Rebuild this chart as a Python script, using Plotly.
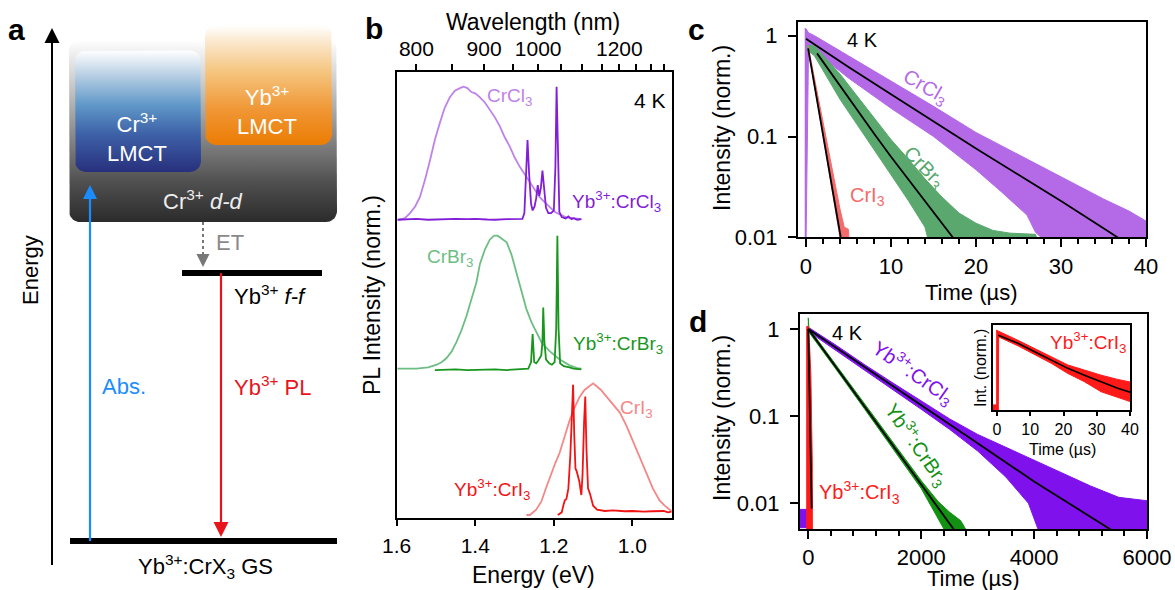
import numpy as np
import plotly.graph_objects as go

W, H = 1175, 590
FONT = "Liberation Sans, Arial, Helvetica, sans-serif"

# ======================= Panel a : energy-level scheme =======================
# energies in arbitrary units (GS = 0, Yb f-f = 1); x in diagram units
E_PER_PX = 1 / 268.0
gs_energy = 0.0
ff_energy = 1.0
gs_x = [70, 337]
ff_x = [182, 322]
box_x0 = [69, 75, 205]
box_x1 = [337, 201, 332]
box_e0 = [1.19, 1.377, 1.478]
box_e1 = [1.87, 1.83, 1.925]
box_scales = [
    [[0, "#2b2b2b"], [0.22, "#505050"], [0.5, "#8f8f8f"], [0.78, "#cfcfcf"], [1, "#ffffff"]],
    [[0, "#28307d"], [0.3, "#3c5fa6"], [0.55, "#5f98c8"], [0.8, "#b9d0e4"], [1, "#ffffff"]],
    [[0, "#ec7c03"], [0.3, "#f09736"], [0.6, "#f5c47c"], [0.85, "#fbe6ca"], [1, "#ffffff"]],
]
box_labels = ["Cr<sup>3+</sup> <i>d-d</i>", "Cr<sup>3+</sup><br>LMCT", "Yb<sup>3+</sup><br>LMCT"]
box_label_x = [202, 137, 267]
box_label_e = [1.272, 1.507, 1.608]
box_label_col = ["#eeeeee", "#ffffff", "#ffffff"]

abs_x, abs_e = 90, [0.0, 1.328]
pl_x, pl_e = 221, [1.0, 0.015]
et_x, et_e = 203, [1.19, 1.022]
ax_x, ax_e = 52, [-0.09, 1.914]

# ======================= Panel b : PL spectra =======================
crcl3_E = [1.595, 1.58, 1.566, 1.553, 1.541, 1.528, 1.515, 1.503, 1.49, 1.478, 1.465, 1.452, 1.439, 1.43,
           1.42, 1.41, 1.40, 1.388, 1.375, 1.363, 1.35, 1.337, 1.325, 1.312, 1.30, 1.287, 1.274, 1.261,
           1.249, 1.236, 1.223, 1.21, 1.198, 1.185, 1.17, 1.16, 1.145, 1.13]
crcl3_I = [0.0, 0.01, 0.05, 0.10, 0.17, 0.30, 0.45, 0.60, 0.73, 0.84, 0.92, 0.97, 0.99, 1.00,
           0.99, 0.96, 0.95, 0.92, 0.88, 0.83, 0.77, 0.70, 0.62, 0.55, 0.47, 0.40, 0.34, 0.28,
           0.22, 0.17, 0.13, 0.09, 0.06, 0.04, 0.02, 0.015, 0.01, 0.005]
ybcl_E = [1.598, 1.57, 1.55, 1.52, 1.5, 1.47, 1.45, 1.42, 1.40, 1.37, 1.35, 1.32, 1.30, 1.28, 1.275, 1.27,
          1.267, 1.263, 1.258, 1.254, 1.249, 1.245, 1.241, 1.237, 1.233, 1.229, 1.225, 1.22, 1.214,
          1.207, 1.2, 1.196, 1.193, 1.19, 1.186, 1.18, 1.17, 1.163, 1.155, 1.15, 1.14, 1.13]
ybcl_I = [0.0, 0.004, 0.006, 0.0, 0.003, 0.008, 0.006, 0.004, 0.007, 0.002, 0.0, 0.004, 0.005, 0.006, 0.05,
          0.4, 0.6, 0.35, 0.12, 0.07, 0.1, 0.16, 0.26, 0.18, 0.24, 0.37, 0.24, 0.09, 0.05,
          0.05, 0.07, 0.4, 1.0, 0.45, 0.06, 0.02, 0.01, 0.025, 0.005, 0.012, 0.0, 0.004]
crbr3_E = [1.598, 1.55, 1.52, 1.498, 1.485, 1.473, 1.46, 1.448, 1.435, 1.422, 1.41, 1.397, 1.388, 1.375,
           1.363, 1.352, 1.343, 1.333, 1.32, 1.308, 1.295, 1.283, 1.27, 1.257, 1.244, 1.23, 1.21, 1.19,
           1.177, 1.16, 1.14, 1.13]
crbr3_I = [0.0, 0.0, 0.01, 0.03, 0.05, 0.08, 0.13, 0.2, 0.29, 0.4, 0.52, 0.65, 0.79, 0.9,
           0.97, 1.0, 1.0, 0.98, 0.95, 0.86, 0.72, 0.58, 0.45, 0.35, 0.27, 0.19, 0.13, 0.08,
           0.055, 0.025, 0.005, 0.0]
ybbr_E = [1.503, 1.47, 1.45, 1.42, 1.40, 1.37, 1.35, 1.32, 1.30, 1.28, 1.265, 1.258, 1.254, 1.25, 1.245,
          1.24, 1.235, 1.232, 1.229, 1.227, 1.224, 1.22, 1.212, 1.205, 1.198, 1.194, 1.191, 1.188,
          1.184, 1.175, 1.16, 1.15, 1.13]
ybbr_I = [-0.01, -0.006, -0.005, -0.01, -0.008, -0.004, -0.005, -0.01, -0.008, -0.006, 0.0, 0.05, 0.26, 0.05,
          0.04, 0.06, 0.08, 0.1, 0.2, 0.46, 0.2, 0.07, 0.04, 0.03, 0.05, 0.3, 1.0, 0.3,
          0.04, 0.02, 0.01, 0.0, -0.005]
cri3_E = [1.27, 1.261, 1.245, 1.232, 1.219, 1.205, 1.195, 1.185, 1.172, 1.16, 1.147, 1.134, 1.122, 1.109,
          1.1, 1.092, 1.08, 1.066, 1.05, 1.032, 1.015, 0.999, 0.982, 0.965, 0.948, 0.931, 0.918,
          0.905, 0.9]
cri3_I = [0.0, 0.0, 0.04, 0.1, 0.21, 0.33, 0.4, 0.47, 0.6, 0.71, 0.81, 0.89, 0.94, 0.97,
          0.99, 0.97, 0.94, 0.89, 0.83, 0.77, 0.67, 0.56, 0.44, 0.32, 0.2, 0.11, 0.07,
          0.04, 0.03]
ybi_E = [1.19, 1.18, 1.175, 1.172, 1.168, 1.163, 1.158, 1.153, 1.151, 1.148, 1.145, 1.142, 1.139, 1.135,
         1.13, 1.127, 1.123, 1.12, 1.117, 1.113, 1.108, 1.104, 1.1, 1.09, 1.07, 1.05, 1.02, 1.0, 0.97,
         0.95, 0.92, 0.91, 0.9]
ybi_I = [0.0, 0.02, 0.08, 0.11, 0.12, 0.2, 0.45, 0.85, 0.98, 0.6, 0.35, 0.33, 0.3, 0.25,
         0.15, 0.3, 0.7, 0.89, 0.5, 0.2, 0.16, 0.12, 0.07, 0.04, 0.03, 0.035, 0.028, 0.03, 0.025,
         0.028, 0.03, 0.02, 0.025]
off_cl, off_br, off_i = 2.22, 1.1, 0.0
wl_ticks = [800, 850, 900, 950, 1000, 1050, 1100, 1150, 1200, 1250, 1300, 1350]
wl_labels = ["800", "", "900", "", "1000", "", "", "", "1200", "", "", ""]
energy_ticks = [1.6, 1.4, 1.2, 1.0]
energy_labels = ["1.6", "1.4", "1.2", "1.0"]

# ======================= Panel c : CrX3 decays (µs) =======================
c_cl_up_t = [-0.15, 0.0, 0.3, 1, 5, 10, 15, 20, 25, 30, 35, 38, 40]
c_cl_up = [1.175, 1.175, 1.07, 1.0, 0.631, 0.355, 0.1995, 0.1096, 0.0661, 0.0398, 0.024, 0.0182, 0.0145]
c_cl_lo_t = [-0.15, 0.0, 0.3, 1, 5, 10, 15, 20, 23, 26, 27, 29, 40]
c_cl_lo = [0.0079, 0.0079, 0.759, 0.708, 0.38, 0.1905, 0.1, 0.0468, 0.0282, 0.0166, 0.0112, 0.0079, 0.0079]
c_cl_fit_t = [0, 5, 10, 15, 20, 25, 30, 35, 37]
c_cl_fit = [0.933, 0.49, 0.263, 0.141, 0.0759, 0.0417, 0.0229, 0.0123, 0.00955]

c_br_up_t = [0.1, 1, 4, 6, 8, 10, 12, 14, 16, 18, 20, 22, 24, 27, 27.5]
c_br_up = [0.794, 0.794, 0.417, 0.251, 0.151, 0.0933, 0.0603, 0.038, 0.0251, 0.0174, 0.0138, 0.0117, 0.011, 0.0107, 0.0079]
c_br_lo_t = [0.1, 1, 4, 6, 8, 10, 12, 14, 14.6, 27.5]
c_br_lo = [0.724, 0.631, 0.234, 0.132, 0.0741, 0.0417, 0.0234, 0.0126, 0.0079, 0.0079]
c_br_fit_t = [1.3, 4, 6, 8, 10, 12, 14, 16, 17.3, 18]
c_br_fit = [0.668, 0.316, 0.186, 0.107, 0.0631, 0.038, 0.0234, 0.0141, 0.01, 0.0083]

c_i_up_t = [0.25, 1, 2, 3, 4, 4.5, 5.0, 5.1]
c_i_up = [0.794, 0.38, 0.138, 0.0501, 0.0191, 0.0126, 0.012, 0.0079]
c_i_lo_t = [0.25, 1, 2, 3, 3.9, 4.1, 5.1]
c_i_lo = [0.741, 0.316, 0.102, 0.0331, 0.0112, 0.0079, 0.0079]
c_i_fit_t = [0.25, 1, 2, 3, 4, 4.2]
c_i_fit = [0.75, 0.325, 0.105, 0.034, 0.011, 0.0088]

# ======================= Panel d : Yb3+:CrX3 decays (µs) =======================
d_cl_up_t = [-147, -8, -8, 0, 500, 1000, 1500, 2000, 2500, 3000, 3500, 4000, 4500, 5000, 5500, 6000]
d_cl_up = [0.00851, 0.00851, 1.047, 1.047, 0.646, 0.389, 0.24, 0.148, 0.0933, 0.0617, 0.0437, 0.0316,
           0.0224, 0.0158, 0.0117, 0.0107]
d_cl_lo_t = [-147, 0, 5, 500, 1000, 1500, 2000, 2500, 3000, 3500, 3900, 4100, 6000]
d_cl_lo = [0.00525, 0.00525, 0.933, 0.562, 0.339, 0.1995, 0.12, 0.0708, 0.0398, 0.02, 0.01, 0.00447, 0.00447]
d_cl_fit_t = [0, 1000, 2000, 3000, 4000, 5000, 5500]
d_cl_fit = [1.0, 0.363, 0.133, 0.049, 0.0178, 0.00708, 0.00437]

d_br_up_t = [-8, 0, 10, 500, 1000, 1500, 2000, 2300, 2500, 2700, 2790, 2800]
d_br_up = [1.337, 1.337, 1.023, 0.38, 0.138, 0.0501, 0.0182, 0.01047, 0.00794, 0.00631, 0.00501, 0.00447]
d_br_lo_t = [-8, 10, 500, 1000, 1500, 2000, 2450, 2800]
d_br_lo = [0.955, 0.933, 0.339, 0.12, 0.0427, 0.0148, 0.00447, 0.00447]
d_br_fit_t = [0, 1000, 2000, 2600]
d_br_fit = [1.0, 0.129, 0.0162, 0.00479]

d_i_up_t = [-28, -28, 0, 20, 45, 60, 70, 72]
d_i_up = [0.0045, 1.07, 1.07, 0.7, 0.3, 0.1, 0.03, 0.0045]
d_i_lo_t = [-28, 72]
d_i_lo = [0.0045, 0.0045]
d_i_fit_t = [0, 20, 40, 60]
d_i_fit = [1.0, 0.204, 0.0427, 0.0087]

# inset: Yb3+:CrI3 first 40 µs (normalised, linear)
in_up_t = [-1.2, -0.1, -0.1, 0.3, 6.3, 11.3, 16.3, 21.3, 26.3, 31.3, 36.3, 40]
in_up = [0.06, 0.06, 0.94, 0.93, 0.82, 0.725, 0.63, 0.53, 0.47, 0.41, 0.36, 0.33]
in_lo_t = [-1.2, 0.4, 0.5, 6.3, 11.3, 16.3, 21.3, 26.3, 31.3, 36.3, 40]
in_lo = [0.0, 0.0, 0.86, 0.755, 0.65, 0.55, 0.43, 0.333, 0.215, 0.15, 0.1]
in_fit_t = [0.4, 6.3, 11.3, 16.3, 21.3, 26.3, 31.3, 36.3, 40]
in_fit = [0.88, 0.785, 0.686, 0.588, 0.49, 0.41, 0.333, 0.255, 0.21]

# colours
COL_B = dict(cl="#be82ea", ybcl="#821ed7", br="#6ebe84", ybbr="#19961e", i="#f58787", ybi="#f01414")
COL_C = dict(cl="#b46ae6", br="#5aa86e", i="#f46b6b")
COL_D = dict(cl="#7f12ec", br="#139113", i="#ff1a1a")

fig = go.Figure()


def band(t_up, up, t_lo, lo, color, xa, ya):
    fig.add_trace(go.Scatter(x=list(t_up) + list(t_lo)[::-1], y=list(up) + list(lo)[::-1],
                             fill="toself", fillcolor=color, mode="lines",
                             line=dict(color=color, width=1), xaxis=xa, yaxis=ya,
                             hoverinfo="skip", showlegend=False))


def line(x, y, color, width, xa, ya, dash=None):
    fig.add_trace(go.Scatter(x=x, y=y, mode="lines", line=dict(color=color, width=width, dash=dash),
                             xaxis=xa, yaxis=ya, hoverinfo="skip", showlegend=False))


# ---------- panel a drawing ----------
def rounded_rect(x0, x1, e0, e1, r):
    ry = r * E_PER_PX
    xs, ys = [], []
    for cx, cy, a0 in [(x1 - r, e0 + ry, -90), (x1 - r, e1 - ry, 0), (x0 + r, e1 - ry, 90), (x0 + r, e0 + ry, 180)]:
        a = np.radians(np.linspace(a0, a0 + 90, 10))
        xs += list(cx + r * np.cos(a))
        ys += list(cy + ry * np.sin(a))
    return xs + [xs[0]], ys + [ys[0]]


for i in range(3):
    bx, by = rounded_rect(box_x0[i], box_x1[i], box_e0[i], box_e1[i], 11)
    fig.add_trace(go.Scatter(x=bx, y=by, mode="lines", fill="toself", line=dict(width=0),
                             fillgradient=dict(type="vertical", colorscale=box_scales[i],
                                               start=box_e0[i], stop=box_e1[i]),
                             xaxis="x", yaxis="y", hoverinfo="skip", showlegend=False))


def arrow(x, e, color, width, head, dash=None, up=True):
    h = head * E_PER_PX
    tip = e[1]
    end = tip - h * 0.8 if up else tip + h * 0.8
    line([x, x], [e[0], end], color, width, "x", "y", dash)
    fig.add_trace(go.Scatter(x=[x], y=[tip], mode="markers",
                             marker=dict(symbol="arrow-up" if up else "arrow-down", size=head,
                                         color=color, line=dict(width=0)),
                             xaxis="x", yaxis="y", hoverinfo="skip", showlegend=False))


line(gs_x, [gs_energy, gs_energy], "black", 6, "x", "y")
line(ff_x, [ff_energy, ff_energy], "black", 6, "x", "y")
arrow(ax_x, ax_e, "black", 2, 15)
arrow(abs_x, abs_e, "#1a8cff", 2.2, 14)
arrow(pl_x, pl_e, "#e8141c", 2.2, 15, up=False)
arrow(et_x, et_e, "#777777", 2, 13, dash="dot", up=False)

# ---------- panel b ----------
def shifted(vals, off):
    return [v + off for v in vals]


line(crcl3_E, shifted(crcl3_I, off_cl), COL_B["cl"], 1.8, "x2", "y2")
line(ybcl_E, shifted(ybcl_I, off_cl), COL_B["ybcl"], 1.8, "x2", "y2")
line(crbr3_E, shifted(crbr3_I, off_br), COL_B["br"], 1.8, "x2", "y2")
line(ybbr_E, shifted(ybbr_I, off_br), COL_B["ybbr"], 1.8, "x2", "y2")
line(cri3_E, shifted(cri3_I, off_i), COL_B["i"], 1.8, "x2", "y2")
line(ybi_E, shifted(ybi_I, off_i), COL_B["ybi"], 1.8, "x2", "y2")
fig.add_trace(go.Scatter(x=[1.2], y=[0], mode="markers", marker=dict(opacity=0), xaxis="x3", yaxis="y2",
                         hoverinfo="skip", showlegend=False))

# ---------- panel c ----------
band(c_cl_up_t, c_cl_up, c_cl_lo_t, c_cl_lo, COL_C["cl"], "x4", "y4")
band(c_br_up_t, c_br_up, c_br_lo_t, c_br_lo, COL_C["br"], "x4", "y4")
band(c_i_up_t, c_i_up, c_i_lo_t, c_i_lo, COL_C["i"], "x4", "y4")
line(c_cl_fit_t, c_cl_fit, "black", 1.8, "x4", "y4")
line(c_br_fit_t, c_br_fit, "black", 1.8, "x4", "y4")
line(c_i_fit_t, c_i_fit, "black", 1.8, "x4", "y4")

# ---------- panel d ----------
band(d_cl_up_t, d_cl_up, d_cl_lo_t, d_cl_lo, COL_D["cl"], "x5", "y5")
band(d_br_up_t, d_br_up, d_br_lo_t, d_br_lo, COL_D["br"], "x5", "y5")
band(d_i_up_t, d_i_up, d_i_lo_t, d_i_lo, COL_D["i"], "x5", "y5")
line(d_cl_fit_t, d_cl_fit, "black", 1.8, "x5", "y5")
line(d_br_fit_t, d_br_fit, "black", 1.8, "x5", "y5")
line(d_i_fit_t, d_i_fit, "black", 1.8, "x5", "y5")

band(in_up_t, in_up, in_lo_t, in_lo, COL_D["i"], "x6", "y6")
line(in_fit_t, in_fit, "black", 1.6, "x6", "y6")

# ---------- axes ----------
def frame(**kw):
    base = dict(showline=True, linecolor="black", linewidth=2, mirror=True, ticks="outside",
                tickcolor="black", tickwidth=2, ticklen=8, showgrid=False, zeroline=False,
                automargin=False, tickfont=dict(size=22, color="black", family=FONT), fixedrange=True)
    base.update(kw)
    return base


fig.update_layout(
    template="none",
    width=W, height=H, margin=dict(l=0, r=0, t=0, b=0, pad=0, autoexpand=False),
    paper_bgcolor="white", plot_bgcolor="white",
    font=dict(family=FONT, color="black"), showlegend=False, hovermode=False,
    xaxis=dict(domain=[0, 360 / W], range=[0, 360], visible=False, fixedrange=True, automargin=False),
    yaxis=dict(domain=[0, 1], range=[-49 * E_PER_PX, 541 * E_PER_PX], visible=False, fixedrange=True,
               anchor="x", automargin=False),
    xaxis2=frame(domain=[396.7 / W, 671.7 / W], range=[1.6, 0.9], anchor="y2", tickmode="array",
                 tickvals=energy_ticks, ticktext=energy_labels, ticklen=6, ticklabelstandoff=2,
                 tickfont=dict(size=21, family=FONT)),
    yaxis2=frame(domain=[1 - 518 / H, 1 - 72 / H], range=[-0.0226, 3.331], anchor="x2",
                 showticklabels=False, ticks=""),
    xaxis3=frame(overlaying="x2", side="top", anchor="y2", range=[1.6, 0.9], tickmode="array",
                 tickvals=[1239.84 / w for w in wl_ticks], ticktext=wl_labels, ticklen=6, mirror=False,
                 tickfont=dict(size=21, family=FONT)),
    xaxis4=frame(domain=[798 / W, 1146 / W], range=[-0.94, 40], anchor="y4", tick0=0, dtick=10,
                 minor=dict(dtick=2, tick0=0, ticks="outside", ticklen=5, tickwidth=1.5, tickcolor="black")),
    yaxis4=frame(domain=[1 - 237.3 / H, 1 - 22 / H], type="log", range=[-2, 0.136], anchor="x4",
                 tickmode="array", tickvals=[0.01, 0.1, 1], ticktext=["0.01", "0.1", "1"],
                 ticklabelstandoff=6),
    xaxis5=frame(domain=[800 / W, 1147 / W], range=[-147, 6000], anchor="y5", tick0=0, dtick=2000,
                 minor=dict(dtick=400, tick0=0, ticks="outside", ticklen=5, tickwidth=1.5, tickcolor="black")),
    yaxis5=frame(domain=[1 - 529 / H, 1 - 314 / H], type="log", range=[-2.295, 0.172], anchor="x5",
                 tickmode="array", tickvals=[0.01, 0.1, 1], ticktext=["0.01", "0.1", "1"],
                 ticklabelstandoff=6),
    xaxis6=frame(domain=[993 / W, 1130 / W], range=[-1.2, 40], anchor="y6", tick0=0, dtick=10,
                 ticklen=4, linewidth=1.5, tickwidth=1.5, tickfont=dict(size=16, family=FONT)),
    yaxis6=frame(domain=[1 - 410 / H, 1 - 325 / H], range=[0, 1], anchor="x6", showticklabels=False,
                 ticks="", linewidth=1.5),
)

ann = []


def text(x, y, s, size, color="black", xref="paper", yref="paper", angle=0, bold=False, xanchor="center"):
    if xref == "paper":
        x = x / W
    if yref == "paper":
        y = 1 - y / H
    ann.append(dict(x=x, y=y, xref=xref, yref=yref, text=("<b>%s</b>" % s) if bold else s, showarrow=False,
                    font=dict(size=size, color=color, family=FONT), textangle=angle,
                    xanchor=xanchor, yanchor="middle"))


# panel letters
text(16, 30, "a", 30, bold=True)
text(374, 28, "b", 30, bold=True)
text(697, 30, "c", 30, bold=True)
text(698, 322, "d", 30, bold=True)

# panel a texts
for i in range(3):
    text(box_label_x[i], box_label_e[i], box_labels[i], 22, box_label_col[i], "x", "y")
text(230, 1.112, "ET", 22, "#8a8a8a", "x", "y")
text(270, 0.918, "Yb<sup>3+</sup> <i>f-f</i>", 22, "black", "x", "y")
text(124, 0.578, "Abs.", 22, "#1a8cff", "x", "y")
text(273, 0.578, "Yb<sup>3+</sup> PL", 22, "#e8141c", "x", "y")
text(205, -0.096, "Yb<sup>3+</sup>:CrX<sub>3</sub> GS", 22, "black", "x", "y")
text(30, 270, "Energy", 22, angle=-90)

# panel b texts
text(533, 22, "Wavelength (nm)", 23)
text(533, 575, "Energy (eV)", 23)
text(372, 295, "PL Intensity (norm.)", 23, angle=-90)
text(1.312, 3.14, "CrCl<sub>3</sub>", 19, COL_B["cl"], "x2", "y2")
text(0.956, 3.12, "4 K", 21, "black", "x2", "y2")
text(1.04, 2.36, "Yb<sup>3+</sup>:CrCl<sub>3</sub>", 19, COL_B["ybcl"], "x2", "y2")
text(1.465, 1.93, "CrBr<sub>3</sub>", 19, COL_B["br"], "x2", "y2")
text(1.0375, 1.293, "Yb<sup>3+</sup>:CrBr<sub>3</sub>", 19, COL_B["ybbr"], "x2", "y2")
text(0.989, 0.80, "CrI<sub>3</sub>", 19, COL_B["i"], "x2", "y2")
text(1.358, 0.188, "Yb<sup>3+</sup>:CrI<sub>3</sub>", 19, COL_B["ybi"], "x2", "y2")

# panel c texts
text(722, 128, "Intensity (norm.)", 23, angle=-90)
text(972, 292, "Time (µs)", 22)
text(6.7, np.log10(0.906), "4 K", 20, "black", "x4", "y4")
text(14.0, np.log10(0.303), "CrCl<sub>3</sub>", 20, COL_C["cl"], "x4", "y4", angle=30)
text(13.8, np.log10(0.049), "CrBr<sub>3</sub>", 20, COL_C["br"], "x4", "y4", angle=45)
text(7.2, np.log10(0.0252), "CrI<sub>3</sub>", 20, COL_C["i"], "x4", "y4")

# panel d texts
text(722, 418, "Intensity (norm.)", 23, angle=-90)
text(973, 578, "Time (µs)", 22)
text(703, np.log10(0.9), "4 K", 20, "black", "x5", "y5")
text(1851, np.log10(0.313), "Yb<sup>3+</sup>:CrCl<sub>3</sub>", 20, COL_D["cl"], "x5", "y5", angle=35)
text(1918, np.log10(0.0468), "Yb<sup>3+</sup>:CrBr<sub>3</sub>", 20, COL_D["br"], "x5", "y5", angle=55)
text(913, np.log10(0.0132), "Yb<sup>3+</sup>:CrI<sub>3</sub>", 20, COL_D["i"], "x5", "y5")

# inset texts
text(980, 368, "Int. (norm.)", 16, angle=-90)
text(1062, 449, "Time (µs)", 16)
text(27.4, 0.8, "Yb<sup>3+</sup>:CrI<sub>3</sub>", 19, COL_D["i"], "x6", "y6")

fig.update_layout(annotations=ann)
fig.write_html("out.html")
